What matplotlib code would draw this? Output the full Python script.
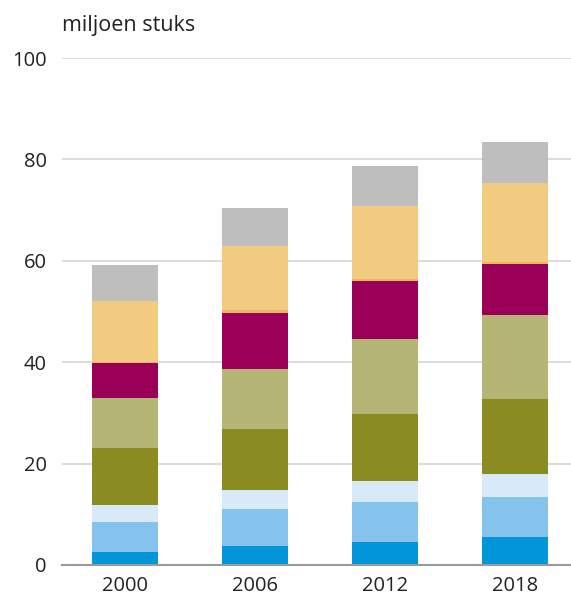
import numpy as np
import matplotlib.pyplot as plt

plt.rcParams['font.family'] = ['Open Sans', 'DejaVu Sans']

years = ["2000", "2006", "2012", "2018"]

# stacked segments, bottom to top (miljoen stuks)
seg_blue_dark = [2.6, 3.8, 4.5, 5.5]
seg_blue_mid = [5.9, 7.2, 8.0, 7.9]
seg_blue_light = [3.3, 3.8, 4.1, 4.5]
seg_olive_dark = [11.3, 12.0, 13.1, 14.8]
seg_olive_light = [9.8, 11.8, 14.9, 16.7]
seg_purple = [6.9, 11.2, 11.4, 9.9]
seg_orange = [0.3, 0.4, 0.5, 0.5]
seg_yellow = [11.9, 12.7, 14.4, 15.5]
seg_grey = [7.1, 7.5, 7.8, 8.2]

segments = [seg_blue_dark, seg_blue_mid, seg_blue_light, seg_olive_dark,
            seg_olive_light, seg_purple, seg_orange, seg_yellow, seg_grey]
colors = ["#0096d9", "#85c2ec", "#d8e9f8", "#8a8c22", "#b5b675",
          "#9a0058", "#eab662", "#f0cb80", "#bebebe"]

fig = plt.figure(figsize=(5.71, 5.96), dpi=100)
ax = fig.add_axes([62 / 571, 31 / 596, 1 - 62 / 571, (565 - 58) / 596])

x = np.arange(len(years))
bottom = np.zeros(len(years))
for vals, col in zip(segments, colors):
    ax.bar(x, vals, bottom=bottom, width=0.51, color=col, linewidth=0, zorder=3)
    bottom += np.array(vals)

ax.set_ylim(0, 100)
ax.set_xlim(-0.485, 3.43)
ax.set_yticks([0, 20, 40, 60, 80, 100])
ax.set_xticks(x)
ax.set_xticklabels(years)
ax.yaxis.grid(True, color="#d9d9d9", lw=1.3, zorder=0)
ax.tick_params(axis="both", length=0, labelsize=14.5, colors="#222222")
ax.tick_params(axis="y", pad=11)
ax.tick_params(axis="x", pad=8)
for s in ["top", "right", "left"]:
    ax.spines[s].set_visible(False)
ax.spines["bottom"].set_color("#9a9a9a")
ax.spines["bottom"].set_linewidth(1.5)
ax.spines["bottom"].set_zorder(4)

fig.text(62 / 571, 1 - 25 / 596, "miljoen stuks", fontsize=15.5, color="#222222",
         ha="left", va="center")

fig.savefig("out.png", dpi=100)
